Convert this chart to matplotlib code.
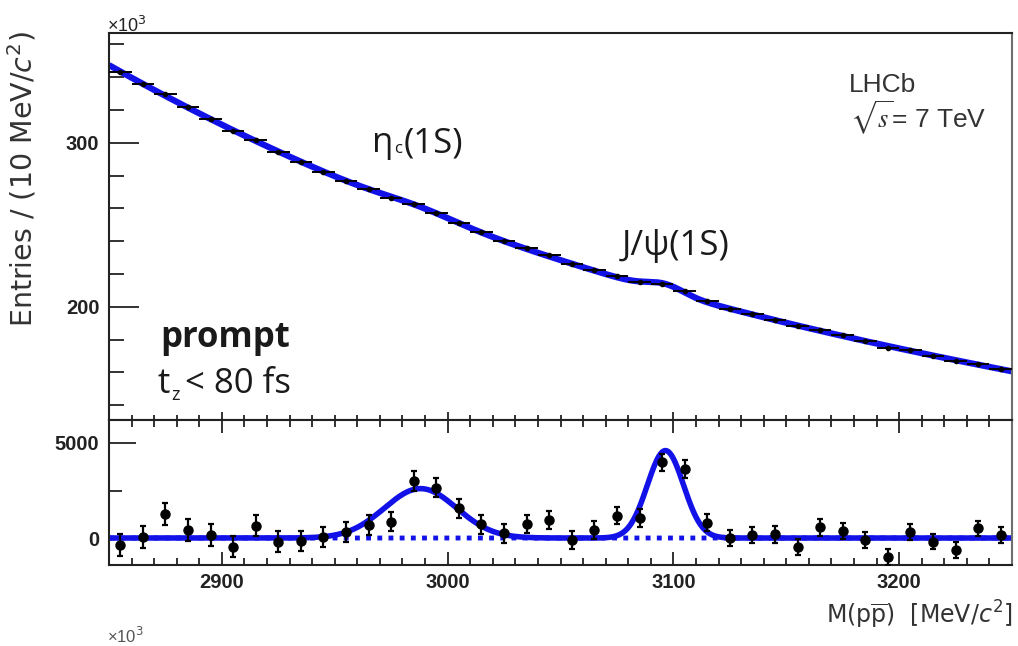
import numpy as np
import matplotlib
matplotlib.use("Agg")
import matplotlib.pyplot as plt
from matplotlib.ticker import MultipleLocator, FixedLocator

# ---------------- data ----------------
bin_width = 10.0
mass_centers = [2855, 2865, 2875, 2885, 2895, 2905, 2915, 2925, 2935, 2945,
                2955, 2965, 2975, 2985, 2995, 3005, 3015, 3025, 3035, 3045,
                3055, 3065, 3075, 3085, 3095, 3105, 3115, 3125, 3135, 3145,
                3155, 3165, 3175, 3185, 3195, 3205, 3215, 3225, 3235, 3245]
# upper panel: entries per bin, in units of 10^3
entries_k = [343.2, 336.1, 329.9, 321.9, 314.7, 307.3, 301.8, 294.5, 288.4, 282.5,
             276.9, 271.6, 266.2, 262.9, 257.4, 251.2, 245.4, 240.2, 236.0, 231.7,
             226.2, 222.5, 219.1, 214.9, 214.0, 209.8, 203.3, 198.9, 195.5, 192.1,
             188.2, 185.9, 182.6, 179.0, 175.2, 173.5, 170.1, 166.9, 165.2, 162.2]
# lower panel: background-subtracted entries
residuals = [-370, 70, 1250, 420, 160, -460, 650, -190, -160, 70,
             300, 680, 860, 3000, 2650, 1560, 720, 250, 740, 950,
             -100, 420, 1180, 1040, 3980, 3630, 810, 0, 160, 190,
             -460, 560, 370, -100, -980, 300, -190, -630, 510, 160]

# fit model parameters
bkg_coef = [347.4, -77.72, 10.51, -0.6875]   # cubic in t=(m-2850)/100, units 10^3
etac_mean, etac_sigma, etac_amp = 2988.0, 16.0, 2600.0
jpsi_mean, jpsi_sigma, jpsi_amp = 3096.5, 8.0, 4600.0

x_range = (2850, 3250)
upper_ylim = (131, 367)
lower_ylim = (-1420, 6210)

# ---------------- figure ----------------
W, H = 1018, 646
fig = plt.figure(figsize=(W / 100, H / 100), dpi=100)
BLUE = "#1212e8"
TXT = "#222222"

L, R, T, M, B = 109, 1012, 33, 420, 565
ax1 = fig.add_axes([L / W, 1 - M / H, (R - L) / W, (M - T) / H])
ax2 = fig.add_axes([L / W, 1 - B / H, (R - L) / W, (B - M) / H], sharex=ax1)

mc = np.array(mass_centers, dtype=float)
ek = np.array(entries_k)
res = np.array(residuals, dtype=float)

m = np.linspace(x_range[0], x_range[1], 1201)
t = (m - 2850.0) / 100.0
bkg = sum(c * t ** i for i, c in enumerate(bkg_coef))
sig = (etac_amp * np.exp(-0.5 * ((m - etac_mean) / etac_sigma) ** 2)
       + jpsi_amp * np.exp(-0.5 * ((m - jpsi_mean) / jpsi_sigma) ** 2))

# upper panel
ax1.plot(m, bkg + sig / 1000.0, color=BLUE, lw=4.5, zorder=2, solid_capstyle="butt")
ax1.errorbar(mc, ek, xerr=bin_width / 2, yerr=np.sqrt(ek * 1000) / 1000,
             fmt="o", ms=3, color="black", ecolor="black", elinewidth=1.4,
             capsize=0, zorder=3)
ax1.set_xlim(*x_range)
ax1.set_ylim(*upper_ylim)

# lower panel
ax2.plot(m, np.zeros_like(m), color=BLUE, lw=3.5, linestyle=(0, (1, 1.3)),
         dash_capstyle="butt", zorder=2)
ax2.plot(m, sig, color=BLUE, lw=4, zorder=2)
ax2.errorbar(mc, res, yerr=np.sqrt(ek * 1000), fmt="o", ms=6.5, color="black",
             ecolor="black", elinewidth=1.6, capsize=2.5, capthick=1.6, zorder=3)
ax2.set_ylim(*lower_ylim)

# ticks
ax1.yaxis.set_major_locator(FixedLocator([200, 300]))
ax1.yaxis.set_minor_locator(MultipleLocator(20))
ax1.xaxis.set_major_locator(MultipleLocator(100))
ax1.xaxis.set_minor_locator(MultipleLocator(10))
ax1.tick_params(axis="x", which="both", direction="in", bottom=True, top=False,
                labelbottom=False, width=1.3, colors=TXT)
ax1.tick_params(axis="x", which="major", length=5.5)
ax1.tick_params(axis="x", which="minor", length=3.5)
ax1.tick_params(axis="y", which="both", direction="in", left=True, right=False,
                width=1.3, colors=TXT, pad=7)
ax1.tick_params(axis="y", which="major", length=21.6, labelsize=14.5)
ax1.tick_params(axis="y", which="minor", length=10.8)

ax2.yaxis.set_major_locator(FixedLocator([0, 5000]))
ax2.yaxis.set_minor_locator(MultipleLocator(2500))
ax2.tick_params(axis="x", which="both", direction="in", bottom=True, top=True,
                width=1.3, colors=TXT, labelsize=14.5, pad=6)
ax2.tick_params(axis="x", which="major", length=9.4)
ax2.tick_params(axis="x", which="minor", length=5)
ax2.tick_params(axis="y", which="both", direction="in", left=True, right=False,
                width=1.3, colors=TXT, labelsize=14.5, pad=7)
ax2.tick_params(axis="y", which="major", length=19.4)
ax2.tick_params(axis="y", which="minor", length=9.4)

for ax in (ax1, ax2):
    for lab in ax.get_xticklabels() + ax.get_yticklabels():
        lab.set_fontfamily("Liberation Sans")
        lab.set_fontweight("bold")
    for side, sp in ax.spines.items():
        sp.set_linewidth(1.5)
        sp.set_color(TXT if side != "right" else "#6e6e6e")

# ---------------- texts ----------------
def fx(px):
    return px / W

def fy(py):
    return 1 - py / H

fig.text(fx(22), fy(179), r"Entries / (10 MeV/$c^{2}$)", rotation=90,
         ha="center", va="center", fontsize=20.5, family="DejaVu Sans",
         math_fontfamily="dejavusans", color="#333333")
fig.text(fx(1013), fy(624), r"M(p$\overline{\mathrm{p}}$)  [MeV/$c^{2}$]",
         ha="right", va="baseline", fontsize=17, family="DejaVu Sans",
         math_fontfamily="dejavusans", color="#333333")
fig.text(fx(107), fy(32), r"×10$^{3}$", ha="left", va="baseline", fontsize=13,
         family="Liberation Sans", math_fontfamily="dejavusans", color=TXT)
fig.text(fx(107), fy(643), r"×10$^{3}$", ha="left", va="baseline", fontsize=12,
         family="Liberation Sans", math_fontfamily="dejavusans", color="#555555")

fig.text(fx(849), fy(92), "LHCb", ha="left", va="baseline", fontsize=19,
         family="Liberation Sans", color="#333333")
fig.text(fx(850), fy(128), r"$\sqrt{s}$= 7 TeV", ha="left", va="baseline",
         fontsize=19, family="Liberation Sans", math_fontfamily="stix",
         color="#333333")

renderer = fig.canvas.get_renderer()
ANN = ["Open Sans", "DejaVu Sans"]


def rich(x_px, base_px, pieces):
    x = x_px
    for s, size, dy, weight, gap in pieces:
        x += gap
        tt = fig.text(fx(x), fy(base_px + dy), s, ha="left", va="baseline",
                      fontsize=size, family=ANN, fontweight=weight, color="#1a1a1a")
        bb = tt.get_window_extent(renderer)
        x = bb.x1


rich(372, 152, [("η", 25, 0, "normal", 0), ("c", 12, 1, "normal", 1),
                ("(1S)", 25, 0, "normal", 1)])
rich(622, 255, [("J/ψ(1S)", 25, 0, "normal", 0)])
rich(160, 347, [("prompt", 25, 0, "bold", 0)])
rich(158, 393, [("t", 25, 0, "normal", 0), ("z", 13, 7, "normal", 1),
                ("< 80 fs", 25, 0, "normal", 5)])

fig.savefig("out.png", dpi=100)
